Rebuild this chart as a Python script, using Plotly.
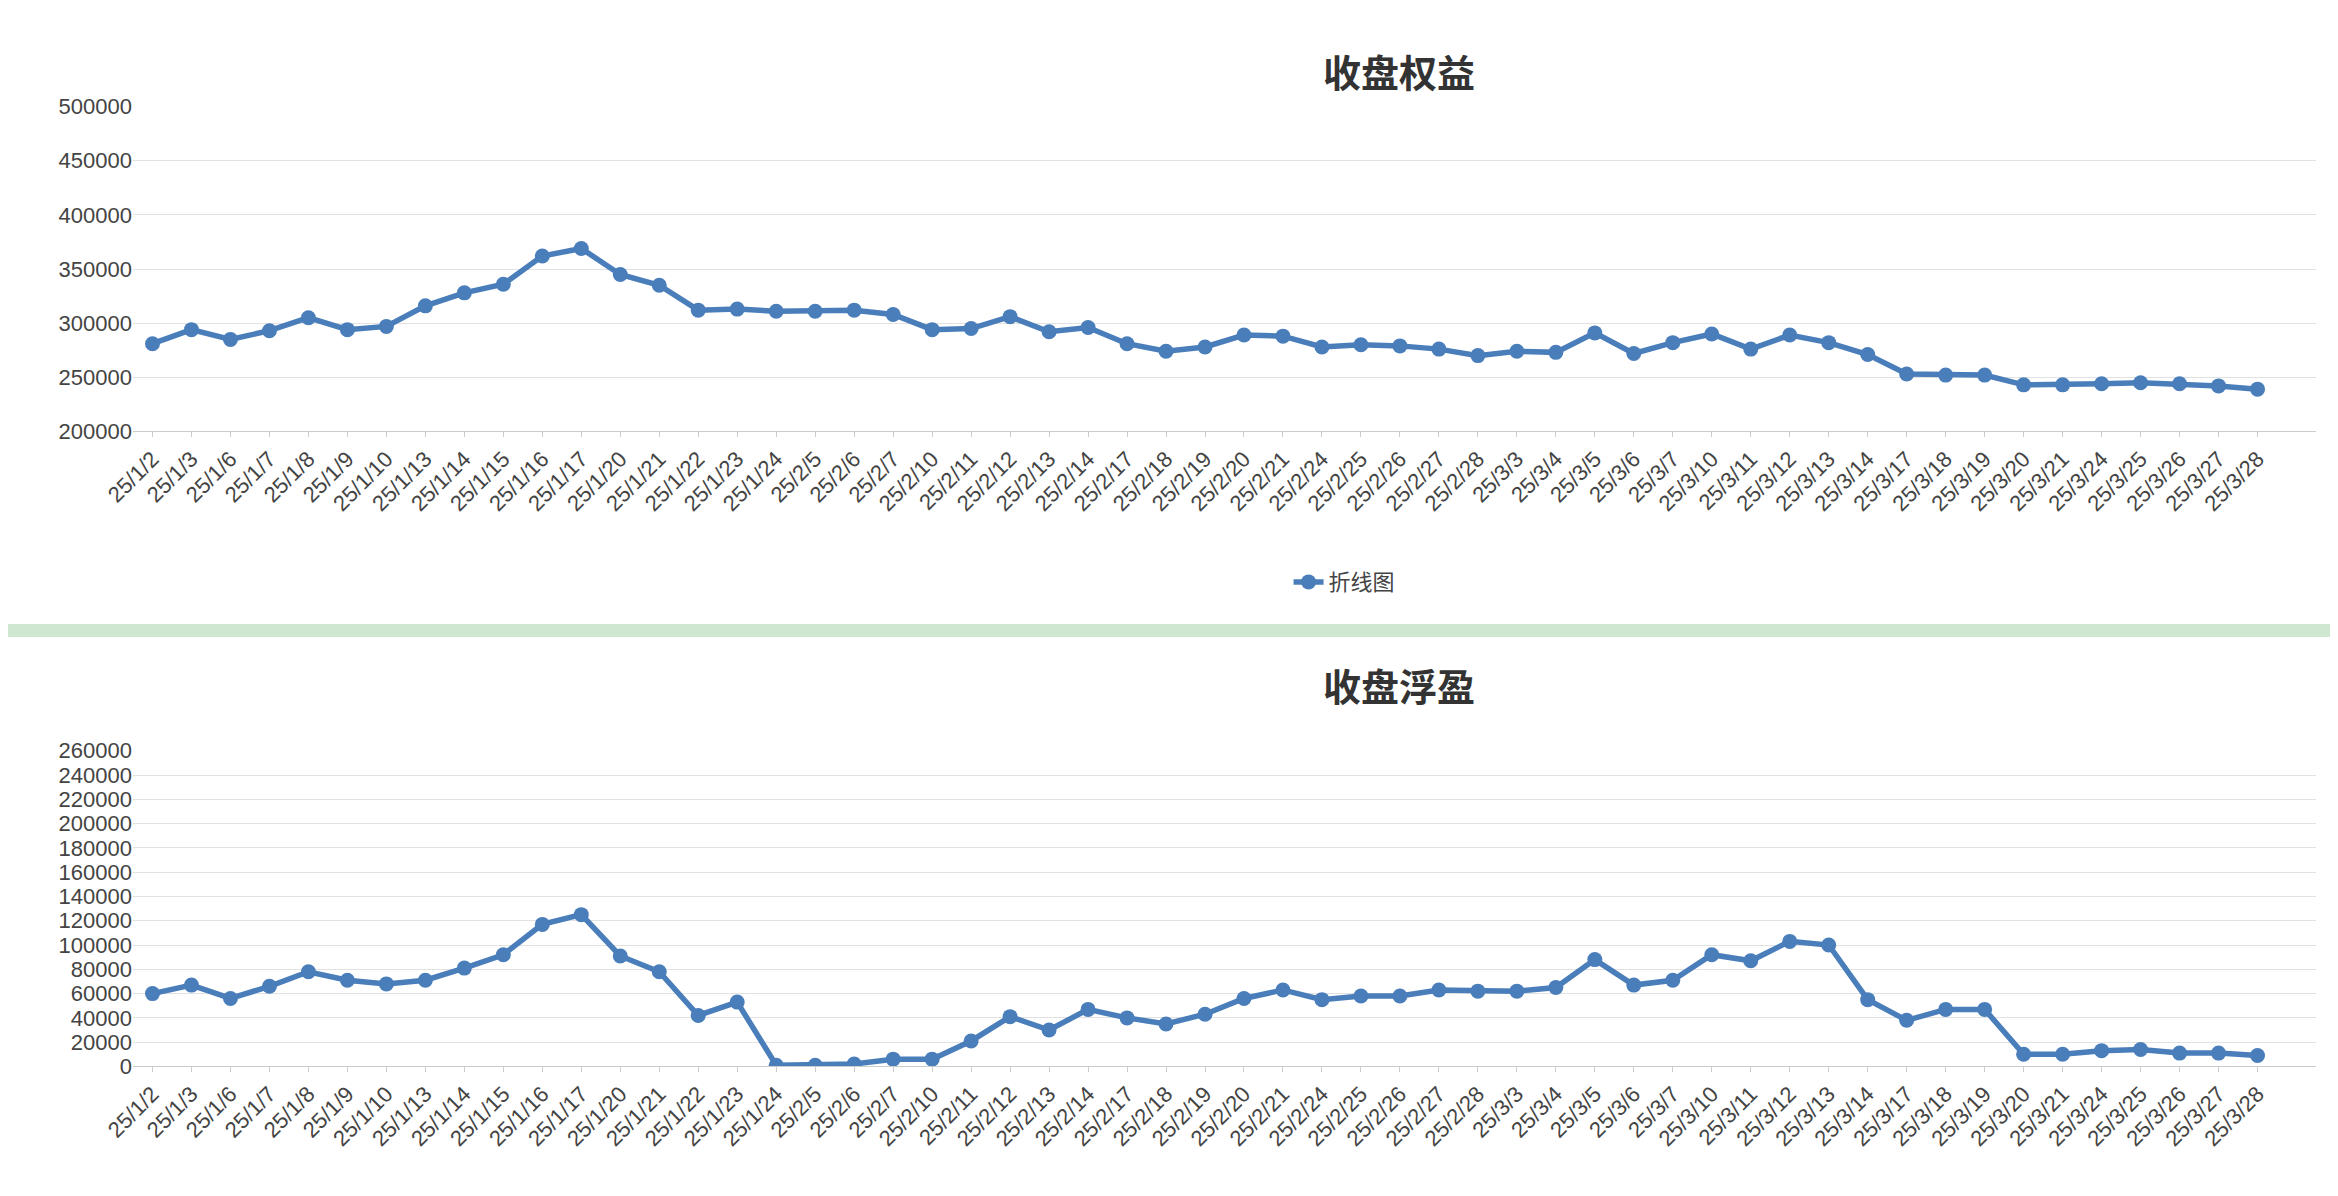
import plotly.graph_objects as go

dates = ["25/1/2", "25/1/3", "25/1/6", "25/1/7", "25/1/8", "25/1/9", "25/1/10", "25/1/13", "25/1/14",
         "25/1/15", "25/1/16", "25/1/17", "25/1/20", "25/1/21", "25/1/22", "25/1/23", "25/1/24",
         "25/2/5", "25/2/6", "25/2/7", "25/2/10", "25/2/11", "25/2/12", "25/2/13", "25/2/14",
         "25/2/17", "25/2/18", "25/2/19", "25/2/20", "25/2/21", "25/2/24", "25/2/25", "25/2/26",
         "25/2/27", "25/2/28", "25/3/3", "25/3/4", "25/3/5", "25/3/6", "25/3/7", "25/3/10",
         "25/3/11", "25/3/12", "25/3/13", "25/3/14", "25/3/17", "25/3/18", "25/3/19", "25/3/20",
         "25/3/21", "25/3/24", "25/3/25", "25/3/26", "25/3/27", "25/3/28"]

equity = [281000, 294000, 285000, 293000, 305000, 294000, 297000, 316000, 328000, 336000, 362000,
          369000, 345000, 335000, 312000, 313000, 311000, 311000, 312000, 308000, 294000, 295000,
          306000, 292000, 296000, 281000, 274000, 278000, 289000, 288000, 278000, 280000, 279000,
          276000, 270000, 274000, 273000, 291000, 272000, 282000, 290000, 276000, 289000, 282000,
          271000, 253000, 252000, 252000, 243000, 243000, 244000, 245000, 244000, 242000, 239000]

floating = [60000, 67000, 56000, 66000, 78000, 71000, 68000, 71000, 81000, 92000, 117000, 125000,
            91000, 78000, 42000, 53000, 1000, 1000, 2000, 6000, 6000, 21000, 41000, 30000, 47000,
            40000, 35000, 43000, 56000, 63000, 55000, 58000, 58000, 63000, 62000, 62000, 65000,
            88000, 67000, 71000, 92000, 87000, 103000, 100000, 55000, 38000, 47000, 47000, 10000,
            10000, 13000, 14000, 11000, 11000, 9000]

line_color = "rgb(74,126,187)"
font = "Liberation Sans"

fig = go.Figure()
fig.add_trace(go.Scatter(x=dates, y=equity, mode="lines+markers", name="折线图",
                         line=dict(color=line_color, width=5.5), marker=dict(size=15),
                         xaxis="x", yaxis="y"))
fig.add_trace(go.Scatter(x=dates, y=floating, mode="lines+markers", name="折线图",
                         line=dict(color=line_color, width=5.5), marker=dict(size=15),
                         xaxis="x2", yaxis="y2", showlegend=False))

xcommon = dict(type="category", range=[-0.5, len(dates) + 0.5], tickangle=-45,
               tickfont=dict(size=22, color="#444"), showgrid=False, automargin=False,
               showline=True, linecolor="#ccc", ticks="outside", tickcolor="#ccc")
ycommon = dict(showgrid=True, gridcolor="#e2e2e2", tickfont=dict(size=22, color="#444"),
               zeroline=False, tickformat="d", automargin=False)

fig.update_layout(
    width=2338, height=1196,
    paper_bgcolor="white", plot_bgcolor="white",
    font=dict(family=font),
    margin=dict(l=125, r=30, t=0, b=0, autoexpand=False),
    xaxis=dict(domain=[0, 1], anchor="y", **xcommon),
    yaxis=dict(domain=[0.646, 0.9175], range=[200000, 500000], dtick=50000, **ycommon),
    xaxis2=dict(domain=[0, 1], anchor="y2", **xcommon),
    yaxis2=dict(domain=[0.115, 0.379], range=[0, 260000], dtick=20000, **ycommon),
    legend=dict(orientation="h", x=0.555, y=0.52, xanchor="center", yanchor="middle",
                font=dict(size=22, color="#444", family="Noto Sans CJK SC")),
    annotations=[
        dict(text="<b>收盘权益</b>", x=0.58, y=0.9725, xref="paper", yref="paper",
             showarrow=False, font=dict(size=38, color="#333", family="Noto Sans CJK SC")),
        dict(text="<b>收盘浮盈</b>", x=0.58, y=0.434, xref="paper", yref="paper",
             showarrow=False, font=dict(size=38, color="#333", family="Noto Sans CJK SC")),
    ],
    shapes=[dict(type="rect", xref="paper", yref="paper", x0=-0.06, x1=1.02, y0=0.474, y1=0.485,
                 fillcolor="#cfe6d0", line=dict(width=0), layer="below")],
)

fig.write_html("out.html")
